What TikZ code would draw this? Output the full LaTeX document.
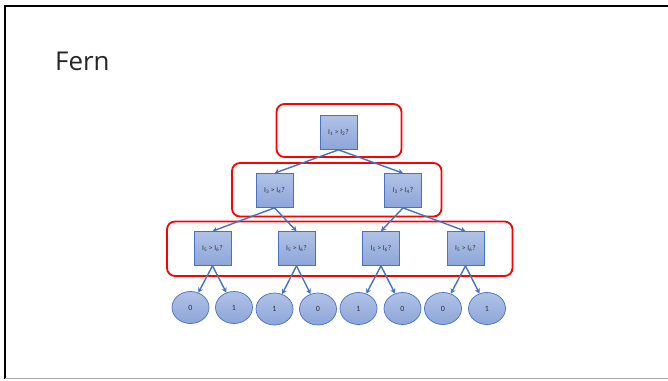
\documentclass[tikz,border=0pt]{standalone}
\usepackage{fontspec}
\setmainfont{Carlito}
\newfontfamily\titlefont{Open Sans}
\usetikzlibrary{arrows.meta,shapes.geometric}
\definecolor{nodeblue}{HTML}{4472C4}
\definecolor{filltop}{HTML}{B0C2E6}
\definecolor{fillbot}{HTML}{8DA5D9}
\definecolor{labelgray}{HTML}{333333}
\definecolor{groupred}{HTML}{FF0000}
\tikzset{
  testbox/.style={draw=nodeblue, line width=0.7bp, top color=filltop, bottom color=fillbot,
    minimum width=37bp, minimum height=34bp, inner sep=0pt, text=labelgray,
    font=\fontsize{7.5}{8}\selectfont},
  leaf/.style={ellipse, draw=nodeblue, line width=0.7bp, top color=filltop, bottom color=fillbot,
    minimum width=37bp, minimum height=32bp, inner sep=0pt, text=labelgray,
    font=\fontsize{8}{9}\selectfont},
  link/.style={draw=nodeblue, line width=1.4bp, -{Stealth[length=5bp,width=5.5bp]}},
  group/.style={draw=groupred, line width=1.8bp, rounded corners=8bp},
}
\newcommand{\cmp}[2]{I\textsubscript{#1} > I\textsubscript{#2}?}
\begin{document}
\begin{tikzpicture}[x=1bp,y=-1bp]
\useasboundingbox (0,0) rectangle (668,380);
% slide frame
\draw[black, line width=1.6bp] (668,6) -- (5,6) -- (5,378.5);
\draw[gray!70, line width=1bp] (5,378.5) -- (668,378.5);
% title
\node[anchor=base west, inner sep=0pt, font=\titlefont\fontsize{26}{30}\selectfont, text=black!85] (title) at (55,70) {Fern};
% groups of tests sharing one level
\draw[group] (276.5,104) rectangle (401.5,157);
\draw[group] (232,163) rectangle (441.5,216.5);
\draw[group] (167,221.5) rectangle (512.5,276);
% test nodes
\node[testbox] (t0) at (338.5,132.5) {\cmp{1}{2}};
\node[testbox] (t1) at (274.5,190.5) {\cmp{3}{4}};
\node[testbox] (t2) at (403,190.5) {\cmp{3}{4}};
\node[testbox] (u1) at (212.5,248.5) {\cmp{5}{6}};
\node[testbox] (u2) at (296.5,248.5) {\cmp{5}{6}};
\node[testbox] (u3) at (381,248.5) {\cmp{5}{6}};
\node[testbox] (u4) at (465.5,248.5) {\cmp{5}{6}};
% leaves
\node[leaf] (l1) at (190.5,307.5) {0};
\node[leaf] (l2) at (234,307.5) {1};
\node[leaf] (l3) at (274.5,309) {1};
\node[leaf] (l4) at (318,309) {0};
\node[leaf] (l5) at (358.5,308.5) {1};
\node[leaf] (l6) at (402.5,308.5) {0};
\node[leaf] (l7) at (443,308.5) {0};
\node[leaf] (l8) at (487,308.5) {1};
% connectors
\draw[link] (t0.south) -- (t1.north);
\draw[link] (t0.south) -- (t2.north);
\draw[link] (t1.south) -- (u1.north);
\draw[link] (t1.south) -- (u2.north);
\draw[link] (t2.south) -- (u3.north);
\draw[link] (t2.south) -- (u4.north);
\draw[link] (u1.south) -- (l1);
\draw[link] (u1.south) -- (l2);
\draw[link] (u2.south) -- (l3);
\draw[link] (u2.south) -- (l4);
\draw[link] (u3.south) -- (l5);
\draw[link] (u3.south) -- (l6);
\draw[link] (u4.south) -- (l7);
\draw[link] (u4.south) -- (l8);
\end{tikzpicture}
\end{document}
